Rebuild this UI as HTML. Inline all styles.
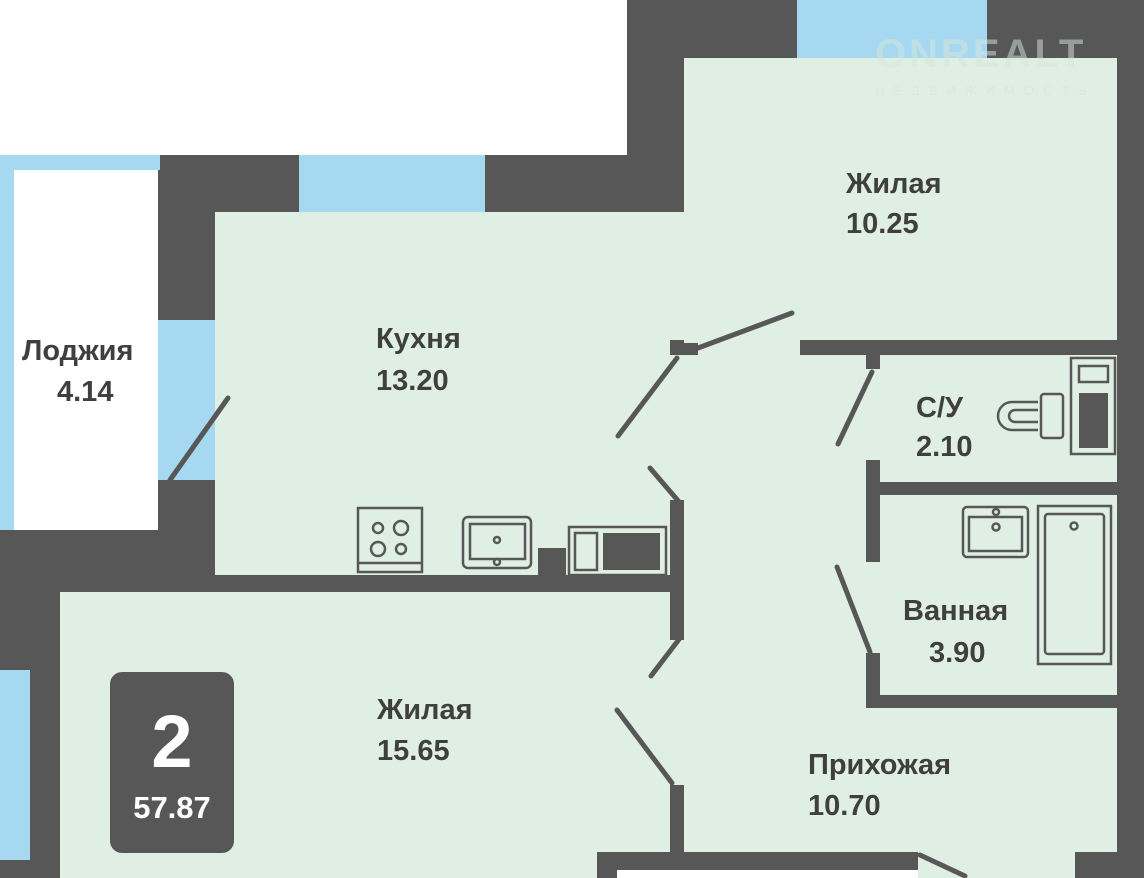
<!DOCTYPE html>
<html><head><meta charset="utf-8"><style>
body{margin:0;background:#fff;}
svg{display:block}
text{font-family:"Liberation Sans","DejaVu Sans",sans-serif;font-weight:bold;fill:#3f3f3f;font-size:29px}
</style></head><body>
<svg width="1144" height="878" viewBox="0 0 1144 878" xmlns="http://www.w3.org/2000/svg">
<rect width="1144" height="878" fill="#fff"/>
<g fill="#575757">
<rect x="627" y="0" width="517" height="60"/>
<rect x="627" y="0" width="57" height="212"/>
<rect x="160" y="155" width="524" height="57"/>
<rect x="158" y="155" width="57" height="420"/>
<rect x="0" y="530" width="215" height="348"/>
<rect x="0" y="575" width="684" height="17"/>
<rect x="1117" y="0" width="27" height="878"/>
</g>
<g fill="#a6d8f2">
<rect x="797" y="0" width="190" height="58"/>
<rect x="299" y="155" width="186" height="57"/>
<rect x="0" y="155" width="160" height="15"/>
<rect x="0" y="155" width="14" height="375"/>
<rect x="158" y="320" width="57" height="160"/>
<rect x="0" y="670" width="30" height="190"/>
</g>
<rect x="14" y="170" width="144" height="360" fill="#fff"/>
<g fill="#e0efe3">
<rect x="684" y="58" width="433" height="820"/>
<rect x="215" y="212" width="469" height="363"/>
<rect x="60" y="592" width="624" height="286"/>
</g>
<g fill="#575757">
<rect x="597" y="852" width="321" height="26"/>
<rect x="1075" y="852" width="42" height="26"/>
<rect x="670" y="340" width="14" height="15"/>
<rect x="684" y="343" width="14" height="12"/>
<rect x="670" y="500" width="14" height="140"/>
<rect x="670" y="785" width="14" height="67"/>
<rect x="800" y="340" width="317" height="15"/>
<rect x="866" y="355" width="14" height="14"/>
<rect x="866" y="460" width="14" height="102"/>
<rect x="880" y="482" width="237" height="13"/>
<rect x="866" y="653" width="14" height="55"/>
<rect x="866" y="695" width="251" height="13"/>
<rect x="538" y="548" width="28" height="27"/>
</g>
<rect x="617" y="870" width="301" height="8" fill="#fff"/>
<g stroke="#575757" stroke-width="5" stroke-linecap="round" fill="none">
<line x1="698" y1="348" x2="792" y2="313"/>
<line x1="677" y1="358" x2="618" y2="436"/>
<line x1="650" y1="468" x2="680" y2="503"/>
<line x1="680" y1="638" x2="651" y2="676"/>
<line x1="617" y1="710" x2="672" y2="783"/>
<line x1="872" y1="372" x2="838" y2="444"/>
<line x1="837" y1="567" x2="870" y2="652"/>
<line x1="228" y1="398" x2="170" y2="480"/>
<line x1="920" y1="855" x2="965" y2="876"/>
</g>
<g stroke="#575757" stroke-width="2.5" fill="none">
<rect x="358" y="508" width="64" height="64"/>
<line x1="358" y1="563" x2="422" y2="563"/>
<circle cx="378" cy="528" r="5"/><circle cx="401" cy="528" r="7"/>
<circle cx="378" cy="549" r="7"/><circle cx="401" cy="549" r="5"/>
<rect x="463" y="517" width="68" height="51" rx="5"/>
<rect x="470" y="524" width="55" height="35"/>
<circle cx="497" cy="540" r="3"/><circle cx="497" cy="562" r="3"/>
<rect x="569" y="527" width="97" height="48"/>
<rect x="575" y="533" width="22" height="37"/>
</g>
<rect x="603" y="533" width="57" height="37" fill="#575757"/>
<g stroke="#575757" stroke-width="2.5" fill="none">
<rect x="1071" y="358" width="44" height="96"/>
<rect x="1079" y="366" width="29" height="16"/>
<path d="M1038 402 H1012 a14 14 0 0 0 0 28 H1038"/>
<path d="M1038 410 H1015 a6 6 0 0 0 0 12 H1038"/>
<rect x="1041" y="394" width="22" height="44" rx="3"/>
</g>
<rect x="1079" y="393" width="29" height="55" fill="#575757"/>
<g stroke="#575757" stroke-width="2.5" fill="none">
<rect x="963" y="507" width="65" height="50" rx="4"/>
<rect x="969" y="517" width="53" height="34"/>
<circle cx="996" cy="512" r="3"/><circle cx="996" cy="527" r="3.5"/>
<rect x="1038" y="506" width="73" height="158"/>
<rect x="1045" y="514" width="59" height="140" rx="3"/>
<circle cx="1074" cy="526" r="3.5"/>
</g>
<text x="875" y="67" style="font-size:40px;fill:#d6e6dc;opacity:.5;letter-spacing:3px">ONREALT</text>
<text x="875" y="95" style="font-size:13px;fill:#d6e6dc;opacity:.6;letter-spacing:9px;font-weight:normal">НЕДВИЖИМОСТЬ</text>
<text x="846" y="193">Жилая</text>
<text x="846" y="233">10.25</text>
<text x="376" y="348">Кухня</text>
<text x="376" y="390">13.20</text>
<text x="22" y="360">Лоджия</text>
<text x="57" y="401">4.14</text>
<text x="916" y="417">С/У</text>
<text x="916" y="456">2.10</text>
<text x="903" y="620">Ванная</text>
<text x="929" y="662">3.90</text>
<text x="377" y="719">Жилая</text>
<text x="377" y="760">15.65</text>
<text x="808" y="774">Прихожая</text>
<text x="808" y="815">10.70</text>
<rect x="110" y="672" width="124" height="181" rx="12" fill="#575757"/>
<text x="172" y="767" text-anchor="middle" style="fill:#fff;font-size:74px">2</text>
<text x="172" y="818" text-anchor="middle" style="fill:#fff;font-size:31px">57.87</text>
</svg>
</body></html>
